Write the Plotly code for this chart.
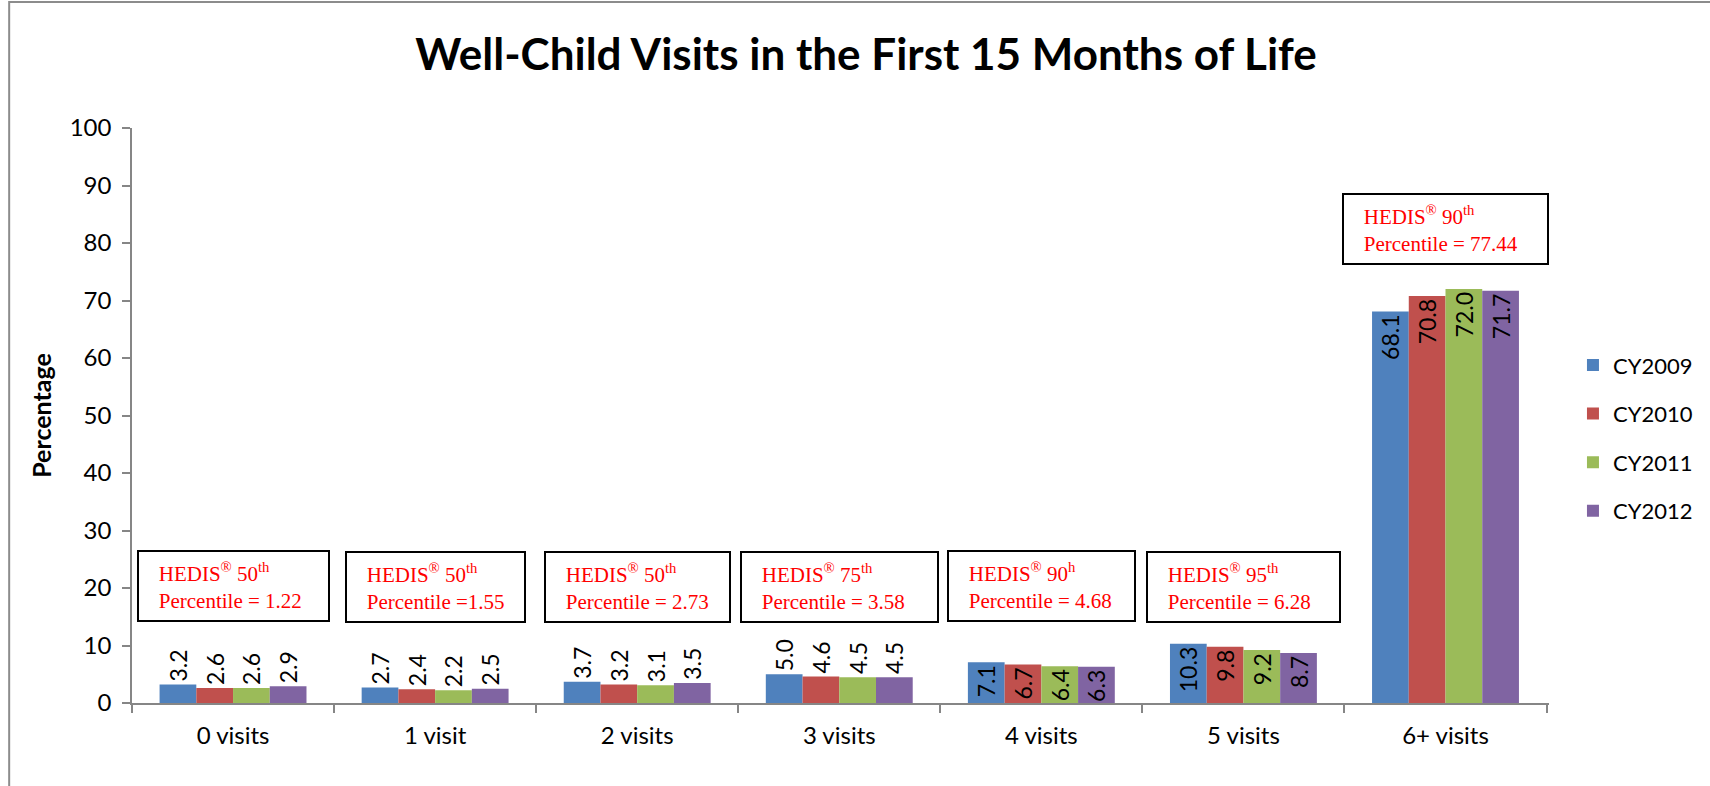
import plotly.graph_objects as go

categories = ["0 visits", "1 visit", "2 visits", "3 visits", "4 visits", "5 visits", "6+ visits"]
series_names = ["CY2009", "CY2010", "CY2011", "CY2012"]
cy2009 = [3.2, 2.7, 3.7, 5.0, 7.1, 10.3, 68.1]
cy2010 = [2.6, 2.4, 3.2, 4.6, 6.7, 9.8, 70.8]
cy2011 = [2.6, 2.2, 3.1, 4.5, 6.4, 9.2, 72.0]
cy2012 = [2.9, 2.5, 3.5, 4.5, 6.3, 8.7, 71.7]
series_values = [cy2009, cy2010, cy2011, cy2012]
colors = ["#4F81BD", "#C0504D", "#9BBB59", "#8064A2"]

hedis_rank = ["50<sup>th</sup>", "50<sup>th</sup>", "50<sup>th</sup>", "75<sup>th</sup>",
              "90<sup>h</sup>", "95<sup>th</sup>", "90<sup>th</sup>"]
hedis_value = ["= 1.22", "=1.55", "= 2.73", "= 3.58", "= 4.68", "= 6.28", "= 77.44"]
box_y = [20.3, 20.1, 20.1, 20.1, 20.3, 20.2, 82.5]
box_w = [193, 181, 187, 199, 189, 195, 207]

y_ticks = list(range(0, 101, 10))

W, H = 1710, 786
L, R, T, B = 132, 1551, 127.6, 703
sans = "Lato"

fig = go.Figure()
for name, vals, col in zip(series_names, series_values, colors):
    fig.add_trace(go.Bar(
        name=name, x=categories, y=vals,
        marker=dict(color=col, line=dict(width=0)),
        texttemplate="%{y:.1f}",
        textposition=["inside" if v >= 6 else "outside" for v in vals],
        insidetextanchor="end",
        textangle=-90,
        constraintext="none",
        cliponaxis=False,
        textfont=dict(family=sans, size=23, color="black"),
        legendgroup=name,
    ))

indent = "\u00a0\u00a0\u00a0"
for i, cat in enumerate(categories):
    txt = (indent + "HEDIS<sup>®</sup> " + hedis_rank[i] +
           "<br>" + indent + "Percentile " + hedis_value[i])
    fig.add_annotation(
        x=cat, y=box_y[i], xref="x", yref="y", text=txt, showarrow=False,
        align="left", xanchor="center", yanchor="middle",
        bordercolor="black", borderwidth=2, borderpad=4,
        width=box_w[i] - 12, height=60, bgcolor="white",
        font=dict(family="Liberation Serif", size=21, color="red"),
    )

# outer chart frame
pw, ph = R - L, B - T
fig.add_shape(type="rect", xref="paper", yref="paper",
              x0=(9 - L) / pw, x1=(1716 - L) / pw,
              y0=(B - 792) / ph, y1=(B - 1.5) / ph,
              line=dict(color="#8C8C8C", width=2), fillcolor="rgba(0,0,0,0)", layer="below")

fig.update_layout(
    width=W, height=H,
    margin=dict(l=L, r=W - R, t=T, b=H - B, pad=0),
    paper_bgcolor="white", plot_bgcolor="white",
    barmode="group", bargap=0.273, bargroupgap=0,
    title=dict(text="<b>Well-Child Visits in the First 15 Months of Life</b>",
               x=866 / W, xanchor="center", xref="container",
               y=1 - 54.5 / H, yanchor="middle", yref="container",
               font=dict(family=sans, size=44, color="black")),
    legend=dict(x=(1575 - L) / pw, xanchor="left", y=(B - 438) / ph, yanchor="middle",
                font=dict(family=sans, size=22, color="black"),
                tracegroupgap=17, bgcolor="rgba(0,0,0,0)"),
    showlegend=True,
    font=dict(family=sans, color="black"),
)
fig.update_xaxes(
    showline=True, linecolor="#868686", linewidth=1.5,
    ticks="outside", tickson="boundaries", ticklen=8, tickcolor="#868686", tickwidth=1.5,
    tickfont=dict(family=sans, size=24, color="black"), ticklabelstandoff=10,
    showgrid=False,
)
fig.update_yaxes(
    range=[0, 100], tickvals=y_ticks, showline=True, linecolor="#868686", linewidth=1.5,
    ticks="outside", ticklen=8, tickcolor="#868686", tickwidth=1.5,
    tickfont=dict(family=sans, size=24, color="black"), ticklabelstandoff=6,
    showgrid=False, zeroline=False,
    title=dict(text="<b>Percentage</b>", font=dict(family=sans, size=25, color="black"), standoff=11),
)

fig.write_html("out.html", config={"displayModeBar": False},
               post_script="document.body.style.margin='0';document.body.style.overflow='hidden';")
